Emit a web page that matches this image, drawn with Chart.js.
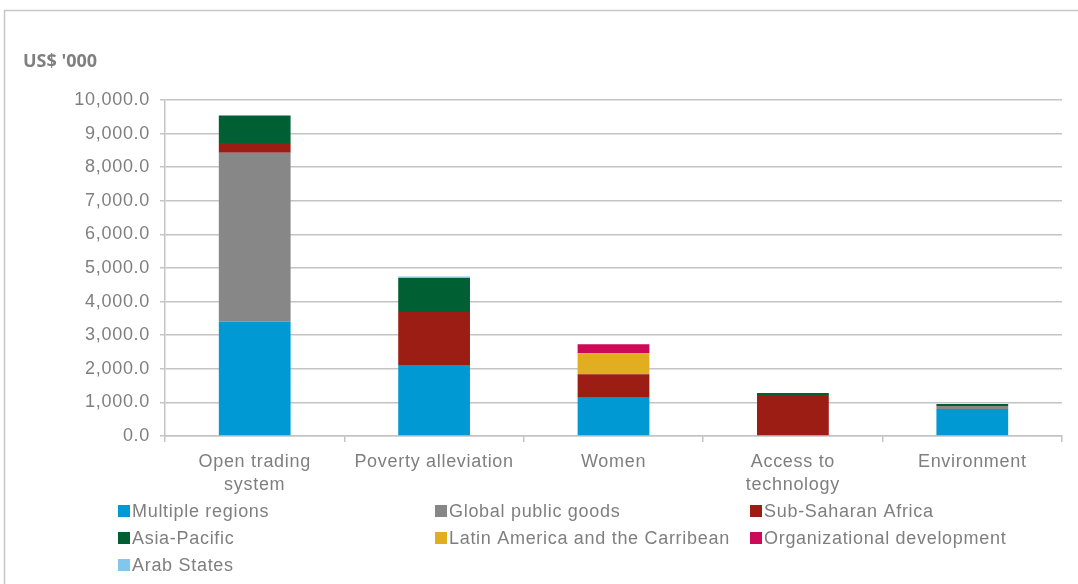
<!DOCTYPE html>
<html>
<head>
<meta charset="utf-8">
<script src="https://cdn.jsdelivr.net/npm/chart.js@4"></script>
<style>
  html, body { margin: 0; padding: 0; background: #fff; }
  #wrap { width: 1078px; height: 584px; }
</style>
</head>
<body>
<div id="wrap"><canvas id="fundsChart" width="1078" height="584"></canvas></div>
<script>
// Funding by theme, stacked by region (US$ '000)
const categories = [['Open trading', 'system'], 'Poverty alleviation', 'Women', ['Access to', 'technology'], 'Environment'];
const multipleRegions = [3410, 2110, 1140, 0, 800];
const globalPublicGoods = [5020, 0, 0, 0, 90];
const subSaharanAfrica = [290, 1580, 700, 1220, 0];
const asiaPacific = [820, 1010, 0, 60, 60];
const latinAmerica = [0, 0, 620, 0, 0];
const orgDevelopment = [0, 0, 270, 0, 0];
const arabStates = [0, 50, 0, 0, 0];
const yTicks = [0, 1000, 2000, 3000, 4000, 5000, 6000, 7000, 8000, 9000, 10000];

const textGrey = '#7f7f7f';
const gridGrey = '#c4c4c4';
const spacing = '0.7px';

function series(label, data, color) {
    return { label: label, data: data, backgroundColor: color, borderWidth: 0 };
}

const datasets = [
    series('Multiple regions', multipleRegions, '#0099d4'),
    series('Global public goods', globalPublicGoods, '#878787'),
    series('Sub-Saharan Africa', subSaharanAfrica, '#9c1d14'),
    series('Asia-Pacific', asiaPacific, '#005f33'),
    series('Latin America and the Carribean', latinAmerica, '#e0ae1e'),
    series('Organizational development', orgDevelopment, '#cc0a57'),
    series('Arab States', arabStates, '#80c6ef')
];

// outer frame, unit label and the three-column legend
const decorations = {
    id: 'decorations',
    beforeLayout(chart) {
        // slightly looser text, axis labels included
        chart.ctx.letterSpacing = spacing;
    },
    beforeDraw(chart) {
        const ctx = chart.ctx;
        ctx.letterSpacing = spacing;
        ctx.save();
        ctx.strokeStyle = '#c6c6c6';
        ctx.lineWidth = 1.5;
        ctx.strokeRect(4.5, 10.5, 1200, 700);
        ctx.restore();
    },
    afterDraw(chart) {
        const ctx = chart.ctx;
        ctx.save();
        ctx.letterSpacing = '0px';
        ctx.fillStyle = textGrey;
        ctx.font = 'bold 18px "Open Sans"';
        ctx.textBaseline = 'middle';
        ctx.fillText("US$ '000", 23, 62);

        const cols = [118, 435, 750];
        const rows = [511, 538, 565];
        ctx.letterSpacing = spacing;
        ctx.font = '18px "Liberation Sans"';
        chart.data.datasets.forEach((ds, i) => {
            const x = cols[i % 3];
            const y = rows[Math.floor(i / 3)];
            ctx.fillStyle = ds.backgroundColor;
            ctx.fillRect(x, y - 6, 12, 12);
            ctx.fillStyle = textGrey;
            ctx.fillText(ds.label, x + 14, y + 1);
        });
        ctx.restore();
    }
};

new Chart(document.getElementById('fundsChart'), {
    type: 'bar',
    data: { labels: categories, datasets: datasets },
    options: {
        responsive: false,
        animation: false,
        layout: { padding: { top: 100, right: 16, left: 0, bottom: 0 } },
        plugins: {
            legend: { display: false },
            tooltip: { enabled: false }
        },
        datasets: {
            bar: { categoryPercentage: 1.0, barPercentage: 0.4 }
        },
        scales: {
            x: {
                stacked: true,
                afterFit: (scale) => { scale.height = 148; },
                grid: {
                    offset: true,
                    drawOnChartArea: false,
                    color: gridGrey,
                    lineWidth: 1.5,
                    tickLength: 6
                },
                border: { color: gridGrey, width: 1.5 },
                ticks: {
                    color: textGrey,
                    font: { family: 'Liberation Sans', size: 18, lineHeight: 1.25 },
                    padding: 9,
                    maxRotation: 0
                }
            },
            y: {
                stacked: true,
                min: 0,
                max: 10000,
                afterFit: (scale) => { scale.width = 165; },
                afterBuildTicks: (scale) => { scale.ticks = yTicks.map(v => ({ value: v })); },
                grid: { color: gridGrey, lineWidth: 1.5, tickLength: 5 },
                border: { color: gridGrey, width: 1.5 },
                ticks: {
                    color: textGrey,
                    font: { family: 'Liberation Sans', size: 18 },
                    padding: 10,
                    callback: (v) => Number(v).toLocaleString('en-US', { minimumFractionDigits: 1, maximumFractionDigits: 1 })
                }
            }
        }
    },
    plugins: [decorations]
});
</script>
</body>
</html>
